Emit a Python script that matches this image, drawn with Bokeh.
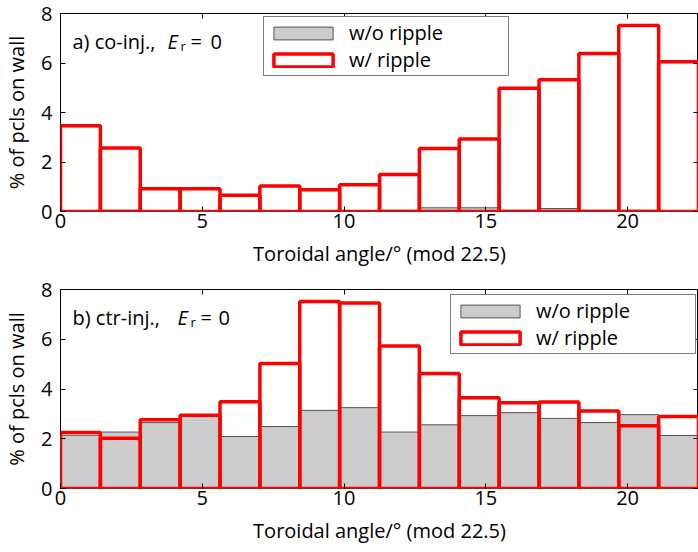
import numpy as np
from bokeh.plotting import figure
from bokeh.models import Range1d, LinearAxis, FixedTicker, Legend, LegendItem, Label
from bokeh.layouts import column
from bokeh.embed import file_html
from bokeh.resources import INLINE

# ---- data (percent of particles on wall per toroidal-angle bin) ----
n_bins = 16
period = 22.5
bin_edges = np.linspace(0, period, n_bins + 1)

co_no_ripple = [0.02, 0.05, 0.02, 0.02, 0.02, 0.03, 0.02, 0.03,
                0.05, 0.15, 0.15, 0.05, 0.12, 0.05, 0.05, 0.02]
co_ripple = [3.46, 2.57, 0.92, 0.92, 0.66, 1.03, 0.88, 1.08,
             1.50, 2.55, 2.93, 4.98, 5.32, 6.38, 7.52, 6.05]

ctr_no_ripple = [2.14, 2.27, 2.65, 2.92, 2.09, 2.49, 3.14, 3.25,
                 2.27, 2.56, 2.93, 3.05, 2.82, 2.65, 2.97, 2.13]
ctr_ripple = [2.25, 2.02, 2.76, 2.94, 3.49, 5.03, 7.52, 7.46,
              5.73, 4.62, 3.65, 3.45, 3.48, 3.12, 2.52, 2.89]

x_ticks = [0, 5, 10, 15, 20]
y_ticks = [0, 2, 4, 6, 8]
x_label = "Toroidal angle/° (mod 22.5)"
y_label = "% of pcls on wall"
legend_labels = ["w/o ripple", "w/ ripple"]

Y_MAX = 8
FONT = "Open Sans"
FS = "20px"


def make_panel(no_rip, rip, height, top, frame_h, tag, offs, legend_loc):
    bottom = height - top - frame_h
    p = figure(width=698, height=height,
               x_range=Range1d(0, period), y_range=Range1d(0, Y_MAX),
               output_backend="svg", toolbar_location=None,
               min_border_left=55, min_border_right=0,
               min_border_top=top, min_border_bottom=bottom)
    p.xgrid.visible = False
    p.ygrid.visible = False
    p.outline_line_color = "black"
    p.outline_line_alpha = 1.0
    p.background_fill_color = "white"

    g = p.quad(left=bin_edges[:-1], right=bin_edges[1:], bottom=0, top=no_rip,
               fill_color="#cccccc", line_color="#555555", line_width=1)
    r = p.quad(left=bin_edges[:-1], right=bin_edges[1:], bottom=0, top=rip,
               fill_color=None, line_color="#ff0000", line_width=3.5)

    for ax, tk in ((p.xaxis[0], x_ticks), (p.yaxis[0], y_ticks)):
        ax.ticker = FixedTicker(ticks=tk)
        ax.major_tick_in = 5
        ax.major_tick_out = 0
        ax.minor_tick_in = 0
        ax.minor_tick_out = 0
        ax.minor_tick_line_color = None
        ax.axis_line_color = None
        ax.major_tick_line_color = "black"
        ax.major_label_text_font = FONT
        ax.major_label_text_font_size = FS
        ax.major_label_text_color = "black"
        ax.axis_label_text_font = FONT
        ax.axis_label_text_font_size = FS
        ax.axis_label_text_font_style = "normal"
        ax.axis_label_text_color = "black"
    p.xaxis.axis_label = x_label
    p.yaxis.axis_label = y_label
    p.xaxis.major_label_standoff = 2
    p.xaxis.axis_label_standoff = 9
    p.yaxis.major_label_standoff = 8
    p.yaxis.axis_label_standoff = 8

    # mirrored inward ticks on the top and right edges (no labels)
    for loc, tk in (("above", x_ticks), ("right", y_ticks)):
        ax = LinearAxis(ticker=FixedTicker(ticks=tk),
                        major_label_overrides={t: "" for t in tk},
                        major_label_text_font_size="0px",
                        major_label_standoff=0,
                        major_tick_in=5, major_tick_out=0,
                        minor_tick_in=0, minor_tick_out=0,
                        minor_tick_line_color=None,
                        axis_line_color=None,
                        major_tick_line_color="black")
        p.add_layout(ax, loc)

    # panel annotation:  "a) co-inj., E_r = 0"  (baseline 28 px below frame top)
    base_y = Y_MAX - 28.0 / (frame_h / Y_MAX)
    o_tag, o_E, o_r, o_eq, o_0 = offs
    common = dict(text_font=FONT, text_color="black", text_baseline="alphabetic")
    p.add_layout(Label(x=0, y=base_y, x_offset=o_tag, text=tag,
                       text_font_size=FS, **common))
    p.add_layout(Label(x=0, y=base_y, x_offset=o_E, text="E",
                       text_font_size=FS, text_font_style="italic", **common))
    p.add_layout(Label(x=0, y=base_y, x_offset=o_r, y_offset=-4, text="r",
                       text_font_size="13px", **common))
    p.add_layout(Label(x=0, y=base_y, x_offset=o_eq, text="=",
                       text_font_size=FS, **common))
    p.add_layout(Label(x=0, y=base_y, x_offset=o_0, text="0",
                       text_font_size=FS, **common))

    leg = Legend(items=[LegendItem(label=legend_labels[0], renderers=[g]),
                        LegendItem(label=legend_labels[1], renderers=[r])],
                 location=legend_loc, padding=2, spacing=0,
                 glyph_width=74, glyph_height=16, label_height=16,
                 label_width=157, label_standoff=9, margin=0,
                 border_line_color="black", border_line_width=1,
                 label_text_font=FONT, label_text_font_size=FS,
                 label_text_color="black", background_fill_alpha=1.0)
    p.add_layout(leg)
    return p


pa = make_panel(co_no_ripple, co_ripple, 273, 13, 198, "a) co-inj.,",
                (12, 107, 120, 130, 150), (203, 135))
pb = make_panel(ctr_no_ripple, ctr_ripple, 275, 16, 199, "b) ctr-inj.,",
                (12, 117, 130, 140, 158), (390, 134))

layout = column(pa, pb, spacing=0)
open("out.html", "w").write(file_html(layout, INLINE))
